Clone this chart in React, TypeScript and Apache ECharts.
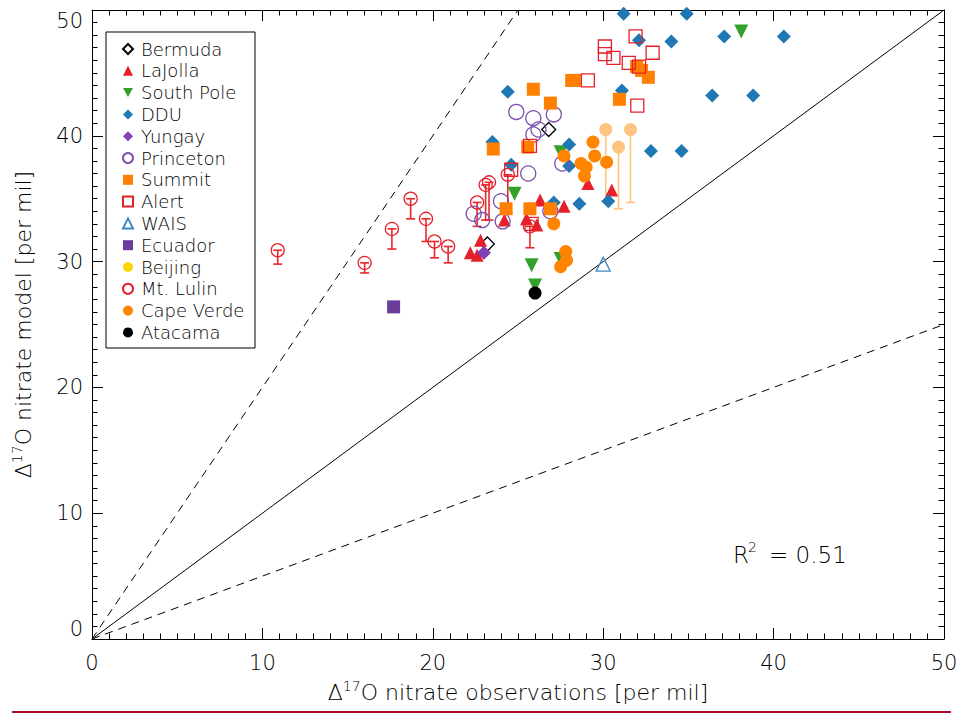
import React, { useEffect, useRef } from "react";
import * as echarts from "echarts";

const FONT = "'DejaVu Sans', 'Liberation Sans', sans-serif";

const xTicks = [0, 10, 20, 30, 40, 50];
const yTicks = [0, 10, 20, 30, 40, 50];

const bermuda = [[23.2, 31.4], [26.8, 40.5]];
const laJolla = [
  [22.2, 30.7], [22.6, 30.5], [22.8, 31.7], [24.2, 33.3], [25.5, 33.4],
  [26.1, 32.9], [26.3, 34.9], [27.7, 34.4], [29.1, 36.2], [30.5, 35.7],
];
const southPole = [[24.8, 35.4], [25.8, 29.7], [26.0, 28.1], [27.5, 30.2], [27.5, 38.7], [38.1, 48.3]];
const ddu = [
  [31.2, 49.7], [34.9, 49.7], [32.1, 47.6], [34.0, 47.5], [37.1, 47.9], [40.6, 47.9],
  [24.4, 43.5], [31.1, 43.6], [36.4, 43.2], [38.8, 43.2], [23.5, 39.5], [28.0, 39.3],
  [32.8, 38.8], [34.6, 38.8], [28.0, 37.6], [24.6, 37.7], [27.1, 34.7], [28.6, 34.6], [30.3, 34.8],
];
const yungay = [[23.0, 30.7]];
const princeton = [
  [24.9, 41.9], [25.9, 41.4], [27.1, 41.7], [26.2, 40.5], [25.9, 40.1], [24.0, 34.8],
  [22.4, 33.8], [22.9, 33.3], [24.1, 33.2], [25.6, 37.0], [27.6, 37.8], [26.9, 34.0],
];
const summit = [
  [25.9, 43.7], [26.9, 42.6], [28.15, 44.4], [28.3, 44.4], [30.95, 42.9], [31.96, 45.5],
  [32.25, 45.2], [32.65, 44.65], [23.55, 38.95], [25.57, 39.1], [24.3, 34.2], [25.7, 34.2], [26.9, 34.2],
];
const alert = [
  [31.9, 47.9], [30.1, 47.1], [30.1, 46.5], [30.6, 46.2], [31.5, 45.8], [32.1, 45.5],
  [32.9, 46.6], [29.1, 44.4], [32.0, 42.4], [25.7, 39.2], [24.6, 37.3], [25.8, 33.0],
];
const wais = [[30.0, 29.8]];
const ecuador = [[17.7, 26.4]];
const beijing: number[][] = [];
// [obs, model, lower end of error bar]
const mtLulin = [
  [10.9, 30.9, 29.8], [16.0, 29.9, 29.1], [17.6, 32.6, 31.0], [18.7, 35.0, 33.4],
  [19.6, 33.4, 31.6], [20.1, 31.6, 30.3], [20.9, 31.2, 29.9], [22.6, 34.7, 32.8],
  [23.1, 36.1, 33.3], [23.3, 36.3, 33.3], [24.4, 36.9, 33.9], [25.7, 32.8, 31.1],
];
const capeVerde = [
  [29.4, 39.5], [29.5, 38.4], [27.7, 38.4], [28.7, 37.8], [29.0, 37.5], [28.9, 36.8],
  [30.2, 37.9], [27.1, 33.0], [27.8, 30.8], [27.85, 30.1], [27.5, 29.6],
];
// [obs, model, lower end of error bar]
const capeVerdeErr = [[30.15, 40.5, 34.8], [31.6, 40.5, 34.7], [30.9, 39.1, 34.2]];
const atacama = [[26.0, 27.5]];

const oneToOne = [[0, 0], [50, 50]];
const twoToOne = [[0, 0], [25, 50]];
const halfToOne = [[0, 0], [50, 25]];

const DOWN_TRI = "path://M0,0 L10,0 L5,9 Z";

function filled(name: string, data: any[], symbol: string, color: string, size: number) {
  return {
    type: "scatter", name, data, symbol, symbolSize: size,
    itemStyle: { color, opacity: 1 }, z: 3,
  };
}
function open(name: string, data: any[], symbol: string, color: string, size: number) {
  return {
    type: "scatter", name, data, symbol, symbolSize: size,
    itemStyle: { color: "rgba(255,255,255,0)", borderColor: color, borderWidth: 1.3, opacity: 1 }, z: 3,
  };
}
function errBars(data: any[], color: string, cap: number) {
  return {
    type: "custom", data, z: 2,
    encode: { x: 0, y: [1, 2] },
    renderItem: (params: any, api: any) => {
      const x = api.value(0), y = api.value(1), lo = api.value(2);
      const p1 = api.coord([x, y]);
      const p2 = api.coord([x, lo]);
      const st = { stroke: color, lineWidth: 1.6 };
      return {
        type: "group",
        children: [
          { type: "line", shape: { x1: p1[0], y1: p1[1], x2: p2[0], y2: p2[1] }, style: st },
          { type: "line", shape: { x1: p1[0] - cap, y1: p1[1], x2: p1[0] + cap, y2: p1[1] }, style: st },
          { type: "line", shape: { x1: p2[0] - cap, y1: p2[1], x2: p2[0] + cap, y2: p2[1] }, style: st },
        ],
      };
    },
  };
}
function refLine(data: any[], dashed: boolean) {
  return {
    type: "line", data, symbol: "none", silent: true, z: 1,
    lineStyle: { color: "#000", width: 1, type: dashed ? [8, 6] : "solid" },
  };
}

const legendNames = [
  "Bermuda", "LaJolla", "South Pole", "DDU", "Yungay", "Princeton", "Summit",
  "Alert", "WAIS", "Ecuador", "Beijing", "Mt. Lulin", "Cape Verde", "Atacama",
];

export default function App() {
  const ref = useRef<HTMLDivElement>(null);
  useEffect(() => {
    const chart = echarts.init(ref.current!, null, { renderer: "svg" });
    const tickLabel = { fontSize: 21, color: "#000", fontFamily: FONT, fontWeight: 200 };
    const nameRich = {
      a: { fontSize: 22, fontFamily: FONT, fontWeight: 200, color: "#000", lineHeight: 26 },
      s: { fontSize: 14, fontFamily: FONT, fontWeight: 200, color: "#000", lineHeight: 15, verticalAlign: "top" },
    };
    const baseAxis = (pos: string, labels: boolean, vals: number[]) => ({
      type: "value", min: vals[0], max: vals[vals.length - 1], interval: 10, position: pos,
      axisLine: { show: true, onZero: false, lineStyle: { color: "#000", width: 1 } },
      axisTick: { show: true, inside: true, length: 11, lineStyle: { color: "#000" } },
      minorTick: { show: true, splitNumber: 10, length: 5.5, lineStyle: { color: "#000" } },
      splitLine: { show: false },
      axisLabel: { show: labels, ...tickLabel },
    });
    chart.setOption({
      animation: false,
      backgroundColor: "#fff",
      grid: { left: 92, right: 19, top: 10, bottom: 76, containLabel: false },
      xAxis: [
        {
          ...baseAxis("bottom", true, xTicks),
          axisLabel: { show: true, ...tickLabel, margin: 13 },
          name: "{a|Δ}{s|17}{a|O nitrate observations [per mil]}",
          nameLocation: "middle", nameGap: 40,
          nameTextStyle: { rich: nameRich },
        },
        { ...baseAxis("top", false, xTicks) },
      ],
      yAxis: [
        {
          ...baseAxis("left", true, yTicks),
          axisLabel: {
            show: true, ...tickLabel, margin: 9,
            verticalAlignMinLabel: "bottom", verticalAlignMaxLabel: "top",
          },
          name: "{a|Δ}{s|17}{a|O nitrate model [per mil]}",
          nameLocation: "middle", nameGap: 56,
          nameTextStyle: { rich: nameRich },
        },
        { ...baseAxis("right", false, yTicks) },
      ],
      legend: {
        orient: "vertical", left: 122, top: 39, padding: 0,
        itemWidth: 10, itemHeight: 10, itemGap: 1.8,
        textStyle: { fontSize: 18, fontFamily: FONT, fontWeight: 200, color: "#000", lineHeight: 20, padding: [0, 0, 0, 3] },
        data: legendNames,
      },
      series: [
        refLine(oneToOne, false),
        refLine(twoToOne, true),
        refLine(halfToOne, true),
        errBars(mtLulin, "#e8262b", 4.5),
        errBars(capeVerdeErr, "#ffc47f", 4.5),
        open("Bermuda", bermuda, "diamond", "#000", 14),
        filled("LaJolla", laJolla, "triangle", "#e5202a", 13),
        filled("South Pole", southPole, DOWN_TRI, "#33a02c", 14),
        filled("DDU", ddu, "diamond", "#1f78b4", 14),
        filled("Yungay", yungay, "diamond", "#7f3fb8", 14),
        open("Princeton", princeton, "circle", "#7b52ab", 15),
        filled("Summit", summit, "rect", "#ff7f00", 13),
        open("Alert", alert, "rect", "#e5202a", 13),
        open("WAIS", wais, "triangle", "#3f86c0", 14),
        filled("Ecuador", ecuador, "rect", "#6a3d9a", 13),
        filled("Beijing", beijing, "circle", "#ffd700", 13),
        open("Mt. Lulin", mtLulin.map((d) => [d[0], d[1]]), "circle", "#e5202a", 13),
        {
          ...filled("Cape Verde", capeVerde, "circle", "#ff8400", 13),
          data: [
            ...capeVerde,
            ...capeVerdeErr.map((d) => ({ value: [d[0], d[1]], itemStyle: { color: "#ffc47f" } })),
          ],
        },
        filled("Atacama", atacama, "circle", "#000", 13),
      ],
      graphic: [
        { type: "rect", shape: { x: 106, y: 32, width: 149, height: 316 }, style: { fill: "none", stroke: "#000", lineWidth: 1 }, z: 10 },
        { type: "text", x: 733, y: 555, style: { text: "R", fontSize: 23, fontFamily: FONT, fontWeight: 200, fill: "#000", verticalAlign: "middle", align: "left" }, z: 10 },
        { type: "text", x: 748, y: 547, style: { text: "2", fontSize: 14, fontFamily: FONT, fontWeight: 200, fill: "#000", verticalAlign: "middle", align: "left" }, z: 10 },
        { type: "text", x: 769, y: 555, style: { text: "= 0.51", fontSize: 23, fontFamily: FONT, fontWeight: 200, fill: "#000", verticalAlign: "middle", align: "left" }, z: 10 },
        { type: "line", shape: { x1: 12, y1: 712, x2: 951, y2: 712 }, style: { stroke: "#a8102c", lineWidth: 2 }, z: 10 },
      ],
    });
    return () => chart.dispose();
  }, []);
  return <div ref={ref} style={{ position: "fixed", left: 0, top: 0, width: 963, height: 715 }} />;
}
